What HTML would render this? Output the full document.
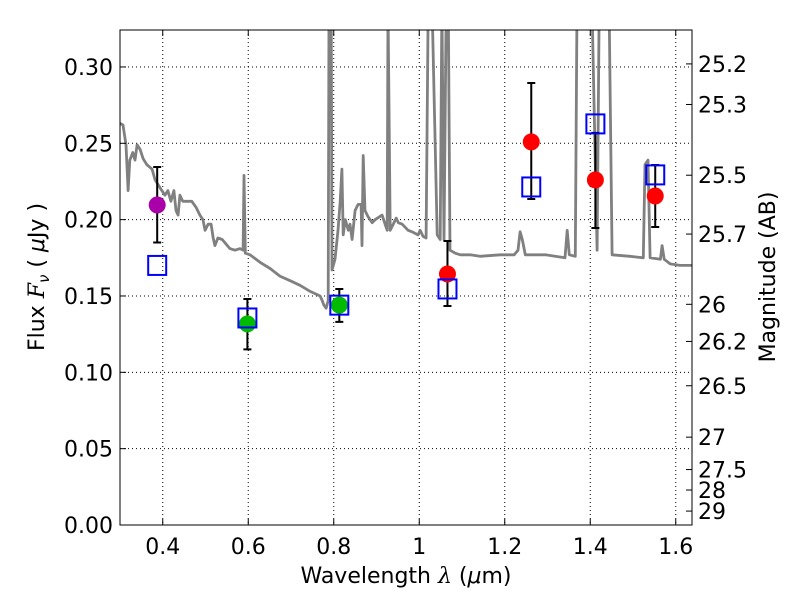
<!DOCTYPE html>
<html><head><meta charset="utf-8"><style>
body{margin:0;background:#fff;}
svg{display:block;font-family:"DejaVu Sans","Liberation Sans",sans-serif;}
</style></head><body>
<svg id="chart" width="800" height="600" viewBox="0 0 800 600">
<defs><clipPath id="clip"><rect x="120" y="30" width="572" height="495"/></clipPath></defs>
<g id="grid"></g>
<g id="plot" clip-path="url(#clip)"></g>
<rect x="120" y="30" width="572" height="495" fill="none" stroke="#000" stroke-width="1"/>
<g id="axes"></g>
<text x="406" y="583" font-size="22" text-anchor="middle">Wavelength  <tspan font-style="italic" font-family="DejaVu Serif,serif">λ</tspan> (<tspan font-style="italic">μ</tspan>m)</text>
<text transform="translate(44,277) rotate(-90)" font-size="22" text-anchor="middle">Flux  <tspan font-style="italic" font-family="DejaVu Serif,serif">F</tspan><tspan font-style="italic" font-size="15" dy="5">ν</tspan><tspan dy="-5">  (  </tspan><tspan font-style="italic">μ</tspan>Jy )</text>
<text transform="translate(775,277) rotate(-90)" font-size="22" text-anchor="middle">Magnitude (AB)</text>
</svg>
<script>
const specLam=[0.300,0.307,0.314,0.319,0.323,0.330,0.335,0.340,0.347,0.354,0.363,0.375,0.382,0.389,0.398,0.405,0.412,0.419,0.426,0.431,0.436,0.440,0.447,0.457,0.468,0.478,0.487,0.494,0.499,0.506,0.513,0.518,0.522,0.529,0.539,0.557,0.569,0.581,0.588,0.590,0.593,0.604,0.628,0.651,0.674,0.698,0.721,0.745,0.768,0.773,0.777,0.782,0.787,0.789,0.794,0.796,0.803,0.810,0.815,0.819,0.822,0.827,0.834,0.838,0.843,0.850,0.857,0.864,0.866,0.869,0.873,0.880,0.890,0.897,0.913,0.920,0.925,0.927,0.932,0.939,0.946,0.951,0.960,0.974,0.983,0.997,1.002,1.009,1.016,1.021,1.030,1.042,1.049,1.053,1.058,1.063,1.068,1.072,1.084,1.096,1.119,1.142,1.189,1.222,1.231,1.236,1.241,1.248,1.295,1.341,1.346,1.351,1.365,1.369,1.404,1.416,1.421,1.444,1.451,1.493,1.524,1.528,1.535,1.540,1.564,1.568,1.573,1.587,1.610,1.638];
const specFlux=[0.263,0.262,0.249,0.219,0.239,0.244,0.239,0.249,0.246,0.240,0.236,0.233,0.226,0.223,0.219,0.216,0.219,0.212,0.219,0.206,0.203,0.216,0.212,0.212,0.212,0.208,0.203,0.200,0.193,0.197,0.197,0.188,0.183,0.188,0.187,0.181,0.180,0.181,0.180,0.229,0.178,0.177,0.172,0.168,0.163,0.160,0.157,0.153,0.150,0.147,0.144,0.142,0.147,0.34,0.34,0.167,0.174,0.193,0.212,0.233,0.190,0.200,0.193,0.197,0.187,0.206,0.210,0.210,0.183,0.242,0.206,0.202,0.198,0.200,0.203,0.197,0.193,0.34,0.193,0.197,0.201,0.198,0.197,0.193,0.192,0.190,0.193,0.189,0.188,0.34,0.34,0.190,0.187,0.34,0.187,0.34,0.34,0.180,0.178,0.177,0.177,0.176,0.177,0.177,0.180,0.192,0.187,0.177,0.177,0.175,0.193,0.177,0.176,0.34,0.34,0.180,0.34,0.34,0.177,0.176,0.175,0.236,0.239,0.175,0.174,0.183,0.174,0.171,0.170,0.170];
const obsLam=[0.387,0.598,0.813,1.066,1.262,1.412,1.552];
const obsFlux=[0.2096,0.1317,0.144,0.1644,0.2509,0.226,0.2155];
const obsErrHi=[0.0249,0.0163,0.0106,0.0216,0.0386,0.0308,0.0203];
const obsErrLo=[0.0246,0.0167,0.011,0.021,0.0374,0.0315,0.0203];
const obsColor=['#aa00aa','#00bb00','#00bb00','#ff0000','#ff0000','#ff0000','#ff0000'];
const modelFlux=[0.170,0.1356,0.144,0.1546,0.2214,0.2627,0.2293];
const xTicks=[0.4,0.6,0.8,1.0,1.2,1.4,1.6];
const xTickLabels=['0.4','0.6','0.8','1','1.2','1.4','1.6'];
const yTicks=[0,0.05,0.10,0.15,0.20,0.25,0.30];
const yTickLabels=['0.00','0.05','0.10','0.15','0.20','0.25','0.30'];
const magTicks=[25.2,25.3,25.5,25.7,26,26.2,26.5,27,27.5,28,29];
const magTickLabels=['25.2','25.3','25.5','25.7','26','26.2','26.5','27','27.5','28','29'];

const NS='http://www.w3.org/2000/svg';
const X0=120,X1=692,Y0=525,Y1=30,LMIN=0.3,LMAX=1.638,FMIN=0,FMAX=0.3242;
const sx=l=>X0+(l-LMIN)/(LMAX-LMIN)*(X1-X0);
const sy=f=>Y0-(f-FMIN)/(FMAX-FMIN)*(Y0-Y1);
function mk(tag,attrs,parent){const e=document.createElementNS(NS,tag);for(const k in attrs)e.setAttribute(k,attrs[k]);parent.appendChild(e);return e;}
const grid=document.getElementById('grid'),plot=document.getElementById('plot'),axes=document.getElementById('axes');

xTicks.forEach((t,i)=>{const x=sx(t);
 let g=mk('line',{x1:x,x2:x,y1:Y1,y2:Y0,stroke:'#000','stroke-dasharray':'1,3','stroke-width':1},grid);
 
 
 let a=mk('line',{x1:x,x2:x,y1:Y0,y2:Y0-6,stroke:'#000'},axes);
 
 
 let b=mk('line',{x1:x,x2:x,y1:Y1,y2:Y1+6,stroke:'#000'},axes);
 
 
 let tx=mk('text',{x:x,y:554,'font-size':22,'text-anchor':'middle'},axes);tx.textContent=xTickLabels[i];
 
 
});
yTicks.forEach((t,i)=>{const y=sy(t);
 if(t>0&&t<0.3242){let g=mk('line',{x1:X0,x2:X1,y1:y,y2:y,stroke:'#000','stroke-dasharray':'1,3','stroke-width':1},grid);
 
 }
 let a=mk('line',{x1:X0,x2:X0+6,y1:y,y2:y,stroke:'#000'},axes);
 
 
 let tx=mk('text',{x:113,y:y+8,'font-size':22,'text-anchor':'end'},axes);tx.textContent=yTickLabels[i];
 
 
});
magTicks.forEach((m,i)=>{const y=sy(Math.pow(10,(23.9-m)/2.5));
 let a=mk('line',{x1:X1,x2:X1-6,y1:y,y2:y,stroke:'#000'},axes);
 
 
 let tx=mk('text',{x:698,y:y+8,'font-size':22,'text-anchor':'start'},axes);tx.textContent=magTickLabels[i];
 
 
});
let d=specLam.map((l,i)=>(i?'L':'M')+sx(l).toFixed(1)+','+sy(specFlux[i]).toFixed(1)).join('');
let sp=mk('path',{d:d,fill:'none',stroke:'#808080','stroke-width':2.8,'stroke-linejoin':'round'},plot);


obsLam.forEach((l,i)=>{const x=sx(l);
 let eb=mk('path',{d:`M${x},${sy(obsFlux[i]+obsErrHi[i])}V${sy(obsFlux[i]-obsErrLo[i])}M${x-4},${sy(obsFlux[i]+obsErrHi[i])}h8M${x-4},${sy(obsFlux[i]-obsErrLo[i])}h8`,stroke:'#000','stroke-width':2,fill:'none'},plot);
 
 
 let c=mk('circle',{cx:x,cy:sy(obsFlux[i]),r:8.5,fill:obsColor[i]},plot);
 
 
 let s=mk('rect',{x:x-9,y:sy(modelFlux[i])-9.5,width:18,height:19,fill:'none',stroke:'#0000ff','stroke-width':2},plot);
 
 
});
</script>
</body></html>
